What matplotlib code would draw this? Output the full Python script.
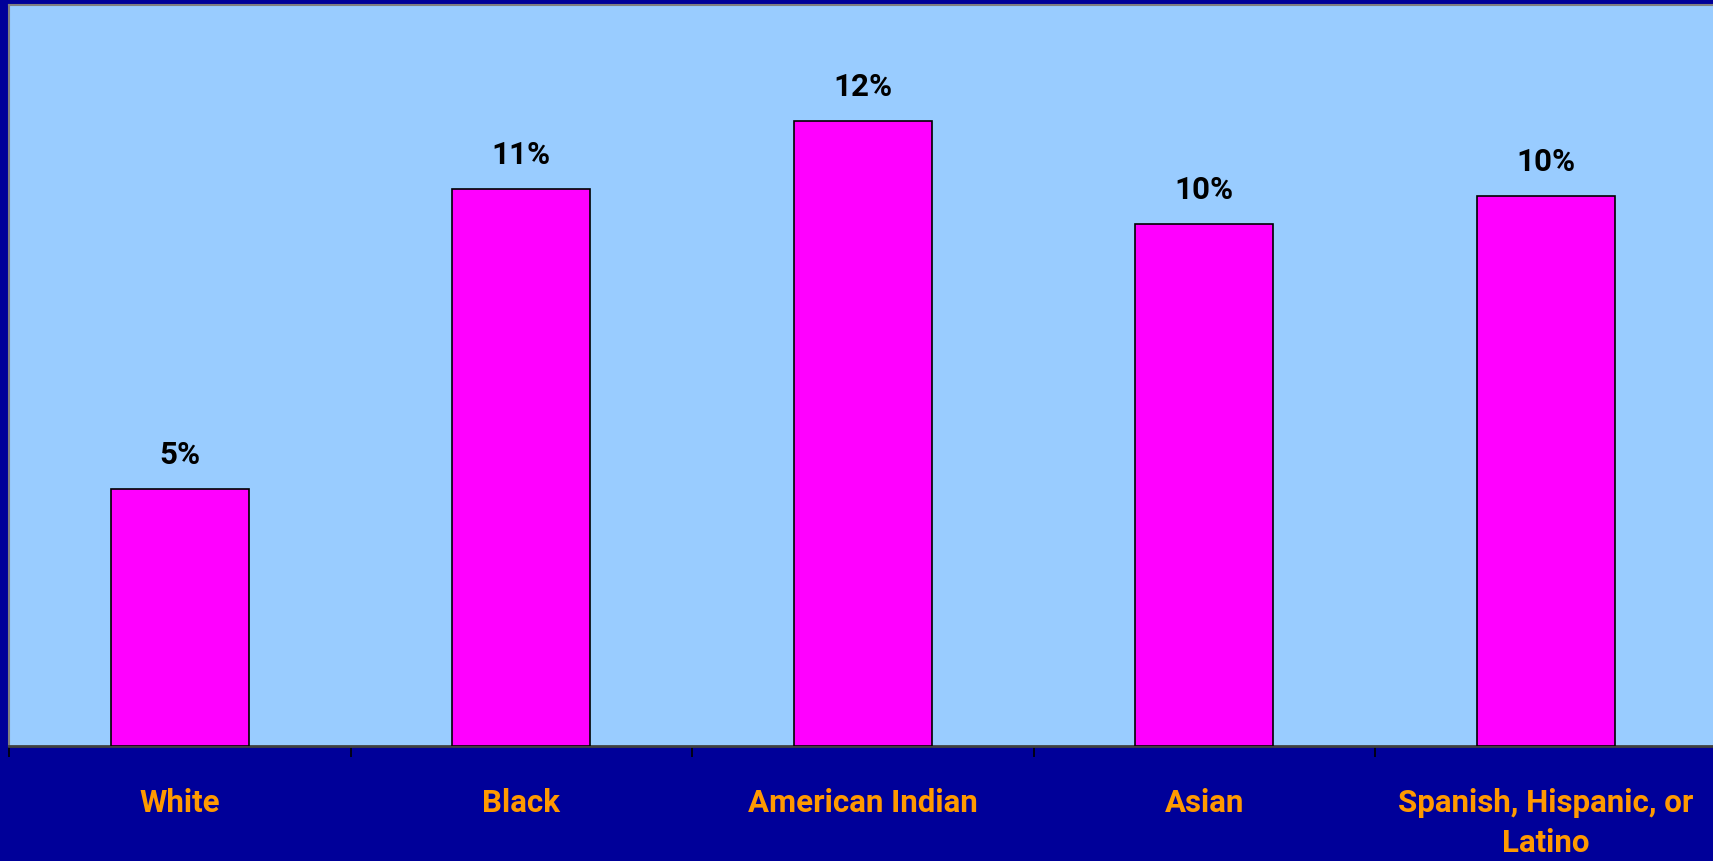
import numpy as np
import matplotlib.pyplot as plt

# data
categories = ['White', 'Black', 'American Indian', 'Asian', 'Spanish, Hispanic, or\nLatino']
values = [4.85, 10.52, 11.80, 9.86, 10.40]
value_labels = ['5%', '11%', '12%', '10%', '10%']

plt.rcParams['font.family'] = ['Roboto', 'DejaVu Sans']

fig = plt.figure(figsize=(17.13, 8.61), dpi=100, facecolor='#000099')
# plot area runs a little past the right edge of the image, as in the original
ax = fig.add_axes([9 / 1713, 115 / 861, 1707.5 / 1713, 741 / 861])
ax.set_facecolor('#99CCFF')

x = np.arange(len(categories)) + 0.5
bars = ax.bar(x, values, width=0.404, color='#FF00FF', edgecolor='black', linewidth=1.2, zorder=3)

for xi, v, lab in zip(x, values, value_labels):
    ax.annotate(lab, (xi, v), xytext=(0, 18), textcoords='offset points',
                ha='center', va='baseline', fontsize=22.5, fontweight='bold', color='black')

ax.set_xlim(0, len(categories))
ax.set_ylim(0, 14)
ax.set_yticks([])

ax.set_xticks(x, categories)
ax.tick_params(axis='x', which='major', length=0, pad=30, labelsize=22.5, labelcolor='#FF9900')
for t in ax.get_xticklabels():
    t.set_fontweight('bold')
    t.set_linespacing(1.45)
ax.set_xticks(np.arange(len(categories) + 1), minor=True)
ax.tick_params(axis='x', which='minor', length=8, width=1.2, color='black', direction='out')

for side in ['top', 'left']:
    ax.spines[side].set_color('#808080')
    ax.spines[side].set_linewidth(1.5)
ax.spines['right'].set_visible(False)
ax.spines['bottom'].set_color('#404040')
ax.spines['bottom'].set_linewidth(2)

plt.savefig('out.png', dpi=100, facecolor=fig.get_facecolor())
